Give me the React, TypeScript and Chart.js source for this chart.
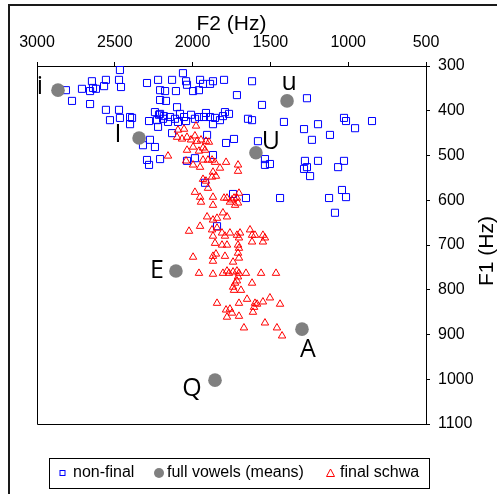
import React, { useEffect, useRef } from 'react';
import { Chart, registerables } from 'chart.js';

Chart.register(...registerables);

// ---------- data (F2 Hz, F1 Hz) ----------
const f2TickValues = [3000, 2500, 2000, 1500, 1000, 500];
const f1TickValues = [300, 400, 500, 600, 700, 800, 900, 1000, 1100];

const seriesLabels = ['non-final', 'full vowels (means)', 'final schwa'];

const nonFinal: [number, number][] = [
  [2467, 309], [2062, 316], [2647, 334], [2557, 331], [2473, 331], [2293, 338], [2222, 331], [2132, 331],
  [2042, 334], [1952, 331], [1869, 334], [1798, 331], [1618, 334],
  [2814, 354], [2711, 351], [2659, 356], [2621, 351], [2569, 345], [2460, 347], [2640, 349], [2209, 354],
  [2177, 356], [2107, 356], [2036, 342], [1997, 356], [1959, 354], [1933, 340], [1888, 340],
  [2775, 378], [2659, 385], [2209, 376], [2171, 378], [2100, 392], [1715, 365], [1554, 387], [1265, 372],
  [2557, 398], [2473, 398], [2531, 421], [2467, 416], [2402, 414], [2389, 416], [2402, 430],
  [2280, 423], [2242, 403], [2229, 421], [2222, 436], [2216, 409], [2190, 418], [2209, 407], [2185, 412],
  [2145, 414], [2113, 418], [2055, 414], [2010, 409], [1985, 418], [1959, 414], [1927, 414], [1888, 414],
  [1869, 430], [1824, 421], [1805, 412], [1792, 403], [1766, 407], [1644, 418], [1618, 421], [2081, 407],
  [2042, 423], [1914, 405], [1856, 416], [2094, 425], [2158, 425],
  [1413, 425], [1284, 441], [1194, 430], [1233, 465], [1117, 454], [1027, 416], [1014, 423], [956, 439], [847, 423],
  [2132, 450], [1907, 454], [1734, 463], [1785, 472], [1580, 468], [2274, 465], [2319, 477], [2242, 481],
  [2293, 510], [2280, 521], [2209, 508], [2036, 512], [1985, 506], [1869, 499], [1535, 508], [1535, 521], [1503, 519],
  [1278, 512], [1265, 526], [1284, 530], [1245, 546], [1194, 512], [1065, 526], [1027, 512],
  [1920, 561], [1740, 586], [1657, 595], [1438, 595], [1843, 658], [1123, 595], [1040, 577], [1014, 593], [1085, 628],
];

const vowelNames = ['i', 'I', 'u', 'U', 'E', 'A', 'Q'];
const vowelMeans: [number, number][] = [
  [2865, 354], [2344, 461], [1393, 378], [1593, 494], [2107, 758], [1297, 888], [1856, 1002],
];

const finalSchwa: [number, number][] = [
  [2094, 443], [2055, 441], [1978, 434], [2100, 459], [2068, 463], [2036, 459], [1985, 456], [2010, 465],
  [1972, 468], [1946, 465], [1914, 468], [1895, 470], [1933, 483], [2036, 488], [1997, 481], [1959, 490], [1920, 488],
  [2158, 501], [2042, 512], [1997, 521], [1952, 526], [1933, 510], [1901, 510], [1875, 510], [1856, 515],
  [1824, 528], [1785, 515], [1708, 521], [1708, 535], [1869, 537], [1875, 548], [1933, 553], [1914, 557], [1850, 546],
  [1901, 573], [1985, 582], [1952, 593], [1946, 604], [1869, 593], [1869, 611], [1798, 595], [1779, 595],
  [1760, 604], [1734, 595], [1715, 595], [1702, 584], [1727, 611], [1708, 606], [1747, 599],
  [1907, 637], [1869, 644], [1843, 640], [1805, 628], [1779, 637], [1952, 658], [2023, 669], [1875, 666],
  [1843, 662], [1811, 673], [1792, 680], [1760, 673], [1715, 678], [1695, 673], [1869, 680], [1631, 666],
  [1618, 678], [1599, 678], [1548, 678], [1535, 684], [1702, 684],
  [1856, 696], [1811, 700], [1779, 700], [1708, 700], [1702, 707], [1618, 693], [1548, 693],
  [1997, 727], [1869, 725], [1869, 736], [1850, 720], [1792, 725], [1740, 738], [1708, 718], [1702, 729],
  [1959, 763], [1869, 765], [1805, 763], [1779, 758], [1766, 763], [1740, 760], [1715, 758], [1702, 763],
  [1708, 771], [1657, 763], [1560, 763], [1464, 763], [1715, 780], [1727, 785], [1740, 794], [1734, 801],
  [1689, 801], [1618, 785],
  [1843, 830], [1785, 845], [1760, 843], [1747, 852], [1779, 861], [1702, 830], [1650, 821], [1702, 859],
  [1599, 830], [1586, 832], [1605, 839], [1612, 850], [1548, 827], [1503, 818], [1438, 832],
  [1670, 885], [1535, 874], [1458, 885], [1425, 903],
];

// ---------- styling ----------
const FONT = '"Liberation Sans", Arial, Helvetica, sans-serif';
const LABEL_FONT = '"Open Sans", "Noto Sans", sans-serif';
const vowelLabelOffsets = [[-18, 4], [-21, 4], [2, -11], [15, -4], [-19, 7], [6, 28], [-23, 16]];
const legendMarkerX = [62, 159, 330.5];
const legendTextX = [73, 167, 340];

const toPoints = (arr: [number, number][]) => arr.map(([x, y]) => ({ x, y }));

const decorPlugin = {
  id: 'decor',
  afterDraw(chart: any) {
    const ctx = chart.ctx as CanvasRenderingContext2D;
    const { left, right, top, bottom } = chart.chartArea;
    const xs = chart.scales.x;
    const ys = chart.scales.y;
    ctx.save();

    // left and bottom of plot box
    ctx.strokeStyle = '#000';
    ctx.lineWidth = 1;
    ctx.beginPath();
    ctx.moveTo(Math.round(left) + 0.5, top);
    ctx.lineTo(Math.round(left) + 0.5, Math.round(bottom) + 0.5);
    ctx.lineTo(right, Math.round(bottom) + 0.5);
    ctx.stroke();

    // outer frame (left + top visible)
    ctx.strokeStyle = '#1a1a1a';
    ctx.lineWidth = 2;
    ctx.beginPath();
    ctx.moveTo(9, chart.height);
    ctx.lineTo(9, 5);
    ctx.lineTo(chart.width, 5);
    ctx.stroke();

    // F1 axis title (reads bottom-to-top)
    ctx.fillStyle = '#000';
    ctx.font = `21px ${FONT}`;
    ctx.textAlign = 'center';
    ctx.textBaseline = 'middle';
    ctx.save();
    ctx.translate(487, (top + bottom) / 2 + 6);
    ctx.rotate(-Math.PI / 2);
    ctx.fillText('F1 (Hz)', 0, 0);
    ctx.restore();

    // vowel labels
    ctx.font = `25px ${LABEL_FONT}`;
    ctx.textAlign = 'center';
    ctx.textBaseline = 'alphabetic';
    vowelNames.forEach((name, i) => {
      const px = xs.getPixelForValue(vowelMeans[i][0]) + vowelLabelOffsets[i][0];
      const py = ys.getPixelForValue(vowelMeans[i][1]) + vowelLabelOffsets[i][1];
      ctx.fillText(name, px, py);
    });

    // legend
    const ly = 473;
    ctx.strokeStyle = '#000';
    ctx.lineWidth = 1;
    ctx.strokeRect(49.5, 458.5, 380, 30);
    const ds = chart.data.datasets;
    // square
    ctx.strokeStyle = ds[0].borderColor;
    ctx.strokeRect(legendMarkerX[0] - 2, ly - 2.5, 5, 5);
    // circle
    ctx.fillStyle = ds[1].backgroundColor;
    ctx.beginPath();
    ctx.arc(legendMarkerX[1], ly, 5, 0, Math.PI * 2);
    ctx.fill();
    // triangle
    ctx.strokeStyle = ds[2].borderColor;
    ctx.beginPath();
    ctx.moveTo(legendMarkerX[2], ly - 4);
    ctx.lineTo(legendMarkerX[2] + 4, ly + 3.5);
    ctx.lineTo(legendMarkerX[2] - 4, ly + 3.5);
    ctx.closePath();
    ctx.stroke();
    ctx.fillStyle = '#000';
    ctx.font = `16px ${FONT}`;
    ctx.textAlign = 'left';
    ctx.textBaseline = 'middle';
    ds.forEach((d: any, i: number) => ctx.fillText(d.label, legendTextX[i], ly));

    ctx.restore();
  },
};

export default function App() {
  const ref = useRef<HTMLCanvasElement>(null);

  useEffect(() => {
    if (!ref.current) return;
    const chart = new Chart(ref.current, {
      type: 'scatter',
      data: {
        datasets: [
          {
            label: seriesLabels[0],
            data: toPoints(nonFinal),
            pointStyle: 'rect',
            pointRadius: 5,
            borderColor: '#0000ff',
            backgroundColor: 'rgba(0,0,0,0)',
            borderWidth: 1,
            order: 3,
          },
          {
            label: seriesLabels[1],
            data: toPoints(vowelMeans),
            pointStyle: 'circle',
            pointRadius: 6.8,
            borderColor: '#808080',
            backgroundColor: '#808080',
            borderWidth: 0,
            order: 2,
          },
          {
            label: seriesLabels[2],
            data: toPoints(finalSchwa),
            pointStyle: 'triangle',
            pointRadius: 4.3,
            borderColor: '#ff0000',
            backgroundColor: 'rgba(0,0,0,0)',
            borderWidth: 1,
            order: 1,
          },
        ],
      },
      options: {
        responsive: false,
        animation: false,
        layout: { padding: { left: 37, top: 0, right: 0, bottom: 70 } },
        plugins: { legend: { display: false }, tooltip: { enabled: false } },
        scales: {
          x: {
            type: 'linear',
            position: 'top',
            reverse: true,
            min: 500,
            max: 3000,
            afterBuildTicks: (s: any) => { s.ticks = f2TickValues.map((v) => ({ value: v })); },
            afterFit: (s: any) => { s.height = 66; },
            grid: { drawOnChartArea: false, drawTicks: true, tickLength: 4, color: '#000', tickColor: '#000' },
            border: { display: true, color: '#000', width: 1 },
            ticks: {
              color: '#000', font: { family: FONT, size: 16 }, padding: 10,
              autoSkip: false, maxRotation: 0, callback: (v: any) => String(v),
            },
            title: {
              display: true, text: 'F2 (Hz)', color: '#000',
              font: { family: FONT, size: 21 }, padding: { top: 12, bottom: 0 },
            },
          },
          y: {
            type: 'linear',
            position: 'right',
            reverse: true,
            min: 300,
            max: 1100,
            afterBuildTicks: (s: any) => { s.ticks = f1TickValues.map((v) => ({ value: v })); },
            afterFit: (s: any) => { s.width = 71; },
            grid: { drawOnChartArea: false, drawTicks: true, tickLength: 4, color: '#000', tickColor: '#000' },
            border: { display: true, color: '#000', width: 1 },
            ticks: {
              color: '#000', font: { family: FONT, size: 16 }, padding: 8,
              autoSkip: false, callback: (v: any) => String(v),
            },
          },
        },
      },
      plugins: [decorPlugin],
    } as any);
    return () => chart.destroy();
  }, []);

  return (
    <canvas
      ref={ref}
      width={497}
      height={494}
      style={{ position: 'absolute', left: 0, top: 0, width: 497, height: 494 }}
    />
  );
}
